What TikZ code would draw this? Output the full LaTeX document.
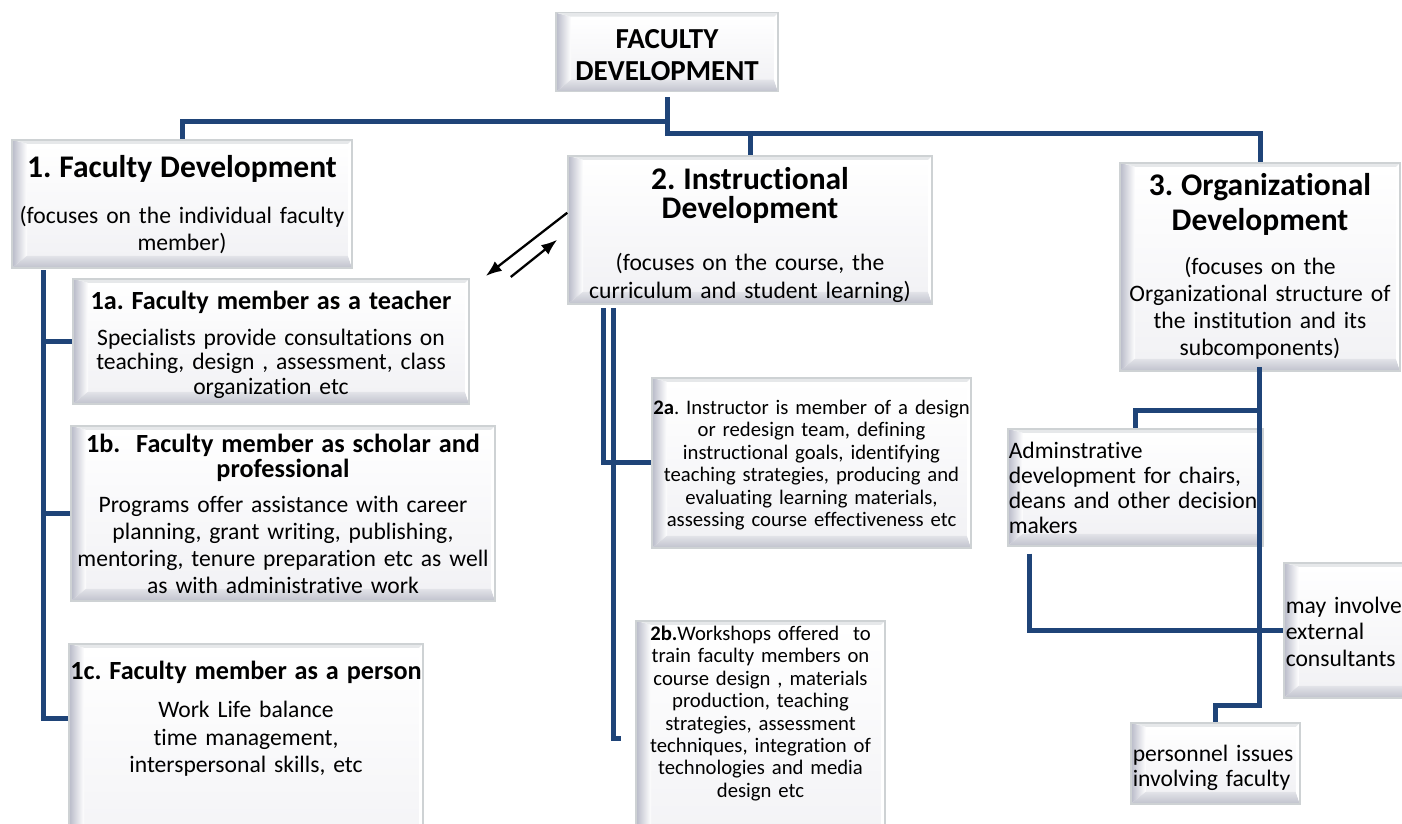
\documentclass[tikz,border=0pt]{standalone}
\usepackage{fontspec}
\setmainfont{Carlito}[Ligatures=NoCommon]
\usetikzlibrary{%
  arrows.meta,
  calc
}
\frenchspacing
\hyphenpenalty=10000
\exhyphenpenalty=10000

\definecolor{linkblue}{RGB}{31,68,120}
\definecolor{bevelside}{RGB}{184,186,200}
\definecolor{bevelbottom}{RGB}{192,194,205}
\definecolor{bevelline}{RGB}{206,210,212}
\definecolor{beveltop}{RGB}{230,232,234}
\definecolor{bevelface}{RGB}{242,242,245}

\newcommand{\fdhead}[1]{\fontsize{31.5}{#1}\selectfont\bfseries}
\newcommand{\fdsub}{\fontsize{26.2}{25}\selectfont\bfseries}
\newcommand{\fdbody}[1]{\fontsize{23.6}{#1}\selectfont}
\newcommand{\fdsmall}{\fontsize{20.7}{22.4}\selectfont}

\begin{document}
\begin{tikzpicture}[x=1pt, y=-1pt,
    link/.style={draw=linkblue, line width=5pt},
    flow/.style={-{Latex[length=16pt,width=12pt]}, line width=2.3pt},
    bevel/.style={path picture={
        \coordinate (bsw) at (path picture bounding box.south west);
        \coordinate (bne) at (path picture bounding box.north east);
        \coordinate (bnw) at (path picture bounding box.north west);
        \coordinate (bse) at (path picture bounding box.south east);
        \coordinate (fsw) at ([shift={(15pt,12pt)}]bsw);
        \coordinate (fne) at ([shift={(-4pt,-4pt)}]bne);
        \shade[top color=white, bottom color=bevelface] (fsw) rectangle (fne);
        \shade[left color=bevelside, right color=white] (bsw) -- (fsw) -- (fsw |- fne) -- (bnw) -- cycle;
        \shade[top color=bevelbottom!45, bottom color=bevelbottom] (bsw) -- (bse) -- (fne |- fsw) -- (fsw) -- cycle;
        \fill[white] (bse) -- (bne) -- (fne) -- (fne |- fsw) -- cycle;
        \fill[beveltop] (bnw) -- (bne) -- (fne) -- (fsw |- fne) -- cycle;
      }},
    % text height = first baseline below the top edge, text depth = the rest of the box
    box/.style={bevel, draw=bevelline, line width=1.5pt, inner xsep=-30pt, inner ysep=0pt,
      anchor=north, align=center, font=\fdbody{26.5},
      execute at begin node=\setlength{\parindent}{0pt}},
    lbox/.style={box, anchor=north west, align=left, inner xsep=1pt}]

    \useasboundingbox (0,0) rectangle (1402,824);

    %Top box
    \node[box, text width=282pt, text height=35.3pt, text depth=43.7pt,
      font=\bfseries\fontsize{29}{32}\selectfont] (fd) at (667,12)
      {FACULTY\\DEVELOPMENT};

    %Faculty development column
    \node[box, text width=400pt, text height=37.5pt, text depth=90.5pt] (fac) at (182,139)
      {{\fdhead{33}1. Faculty Development\par}\vspace{20pt}
       (focuses on the individual faculty\\ member)};
    \node[box, text width=456pt, text height=30.5pt, text depth=94.5pt, font=\fdbody{24.5}] (teach) at (271,278)
      {{\fdsub 1a. Faculty member as a teacher\par}\vspace{11.5pt}
       Specialists provide consultations on\\ teaching, design , assessment, class\\ organization etc};
    \node[box, text width=484pt, text height=26.5pt, text depth=148.5pt, font=\fdbody{27}] (scholar) at (283,425)
      {{\fdsub 1b.~ Faculty member as scholar and\\ professional\par}\vspace{8pt}
       Programs offer assistance with career\\ planning, grant writing, publishing,\\ mentoring, tenure preparation etc as well\\ as with administrative work};
    \node[box, text width=414pt, text height=35.5pt, text depth=200pt, font=\fdbody{27.5}] (person) at (246,643)
      {{\fdsub 1c. Faculty member as a person\par}\vspace{11pt}
       Work Life balance\\ time management,\\ interspersonal skills, etc};

    %Instructional development column
    \node[box, text width=424pt, text height=33.5pt, text depth=114.5pt, font=\fdbody{28.5}] (instr) at (750,155)
      {{\fdhead{29.5}2. Instructional\\ Development\par}\vspace{23pt}
       (focuses on the course, the\\ curriculum and student learning)};
    \node[box, text width=379pt, text height=36.7pt, text depth=133.3pt, font=\fdsmall] (team) at (811.5,377)
      {\textbf{2a}. Instructor is member of a design\\ or redesign team, defining\\ instructional goals, identifying\\ teaching strategies, producing and\\ evaluating learning materials,\\ assessing course effectiveness etc};
    \node[box, text width=309pt, text height=19.7pt, text depth=220pt, font=\fdsmall] (shop) at (760.5,620)
      {\textbf{2b.}Workshops offered~ to\\ train faculty members on\\ course design , materials\\ production, teaching\\ strategies, assessment\\ techniques, integration of\\ technologies and media\\ design etc};

    %Organizational development column
    \node[box, text width=340pt, text height=32.5pt, text depth=175.5pt, font=\fdbody{27}] (org) at (1260,162)
      {{\fdhead{35}3. Organizational\\ Development\par}\vspace{17.5pt}
       (focuses on the\\ Organizational structure of\\ the institution and its\\ subcomponents)};
    \node[lbox, text width=253pt, text height=29.7pt, text depth=87.3pt, font=\fdbody{25}] (admin) at (1007,428)
      {Adminstrative\\ development for chairs,\\ deans and other decision\\ makers};
    \node[lbox, text width=150pt, text height=50.7pt, text depth=84.3pt, inner xsep=2pt] (consult) at (1283,562)
      {may involve\\ external\\ consultants};
    \node[lbox, text width=165pt, text height=38.7pt, text depth=42.3pt, inner xsep=2pt, font=\fdbody{25}] (staff) at (1130,722)
      {personnel issues\\ involving faculty};

    %Links
    \coordinate (tee) at (667,122);
    \coordinate (teeb) at (667,134);
    \draw[link] ([yshift=-5pt]fd.south) -- (teeb) -| (org.north);
    \draw[link] (tee) -| (fac.north);
    \draw[link] (teeb -| instr.north) -- (instr.north);

    \coordinate (spine1) at (43,270);
    \draw[link] (spine1) |- ([yshift=-75pt]person.north west);
    \draw[link] (spine1 |- teach.west) -- (teach.west);
    \draw[link] (spine1 |- scholar.west) -- (scholar.west);

    \coordinate (spine2a) at (603,308);
    \coordinate (spine2b) at (613,308);
    \draw[link] (spine2a) |- (team.west);
    \draw[link] (spine2b) |- ([xshift=-14pt,yshift=-118pt]shop.north west);

    \coordinate (spine3) at (1259,367);
    \draw[link] (spine3) -- ++(0,43) -| (admin.north);
    \draw[link] (spine3) -- ++(0,338) -| (staff.north);
    \draw[link] ([xshift=22pt,yshift=-7pt]admin.south west) |- (consult.west);

    %Arrows between 1 and 2
    \draw[flow] ([yshift=17pt]instr.west) -- ([xshift=16pt,yshift=2pt]teach.north east);
    \draw[flow] ([xshift=41pt,yshift=1pt]teach.north east) -- ([xshift=-10pt,yshift=-10pt]instr.west);

\end{tikzpicture}
\end{document}
